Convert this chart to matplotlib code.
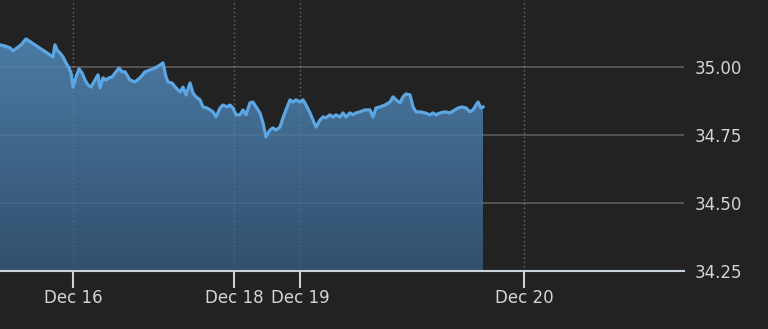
import numpy as np
import matplotlib
matplotlib.use("Agg")
import matplotlib.pyplot as plt
from matplotlib.colors import LinearSegmentedColormap

# session position (chart units along the compressed trading-time axis) and price
session_pos = [0, 5, 10, 13, 17, 21, 26, 53, 55, 57, 60, 63, 66, 69, 71, 73, 76, 79, 82, 85,
               88, 91, 95, 98, 100, 103, 106, 109, 112, 116, 119, 122, 125, 130, 135, 140, 145,
               150, 155, 160, 163, 166, 168, 172, 176, 180, 183, 186, 190, 193, 196, 200, 203,
               207, 210, 213, 216, 220, 223, 227, 230, 233, 236, 240, 243, 246, 250, 253, 256,
               260, 263, 266, 270, 273, 276, 280, 283, 286, 290, 293, 296, 300, 303, 306, 310,
               313, 316, 320, 323, 326, 330, 333, 336, 340, 343, 346, 350, 353, 356, 360, 365,
               370, 373, 376, 380, 385, 390, 393, 396, 400, 403, 406, 410, 413, 416, 420, 425,
               430, 433, 436, 440, 445, 450, 455, 458, 462, 466, 470, 473, 476, 478, 481, 483]
price = [35.081, 35.077, 35.070, 35.059, 35.070, 35.081, 35.103, 35.037, 35.081, 35.063,
         35.051, 35.037, 35.015, 34.996, 34.978, 34.926, 34.963, 34.993, 34.978, 34.952,
         34.934, 34.926, 34.952, 34.971, 34.923, 34.960, 34.952, 34.960, 34.963, 34.982,
         34.996, 34.982, 34.982, 34.952, 34.945, 34.960, 34.982, 34.989, 34.996, 35.007,
         35.015, 34.963, 34.945, 34.941, 34.923, 34.908, 34.926, 34.897, 34.941, 34.904,
         34.890, 34.879, 34.853, 34.849, 34.842, 34.835, 34.816, 34.849, 34.860, 34.853,
         34.860, 34.849, 34.824, 34.824, 34.842, 34.824, 34.868, 34.871, 34.853, 34.831,
         34.794, 34.743, 34.768, 34.776, 34.768, 34.779, 34.813, 34.842, 34.879, 34.871,
         34.879, 34.871, 34.879, 34.860, 34.831, 34.805, 34.779, 34.805, 34.816, 34.813,
         34.824, 34.816, 34.824, 34.816, 34.831, 34.816, 34.831, 34.824, 34.831, 34.835,
         34.842, 34.842, 34.816, 34.849, 34.853, 34.860, 34.871, 34.890, 34.879, 34.868,
         34.890, 34.901, 34.897, 34.853, 34.835, 34.835, 34.831, 34.824, 34.831, 34.824,
         34.831, 34.835, 34.831, 34.842, 34.849, 34.853, 34.849, 34.835, 34.842, 34.860,
         34.871, 34.849, 34.853]

tick_pos = [73, 234, 300, 524]
tick_labels = ["Dec 16", "Dec 18", "Dec 19", "Dec 20"]
y_ticks = [34.25, 34.50, 34.75, 35.00]

bg = "#222222"
y_min, y_max = 34.25, 35.246
x_max = 684

fig = plt.figure(figsize=(7.68, 3.29), dpi=100, facecolor=bg)
ax = fig.add_axes([0, 58 / 329, x_max / 768, 271 / 329])
ax.set_facecolor(bg)

# gradient area under the line
cmap = LinearSegmentedColormap.from_list("area", ["#32506d", "#4b7aa4"])
grad = np.linspace(0, 1, 256).reshape(-1, 1)
img = ax.imshow(grad, cmap=cmap, origin="lower", aspect="auto",
                extent=[0, x_max, y_min, 35.10], zorder=1)
fill = ax.fill_between(session_pos, price, y_min, facecolor="none", edgecolor="none")
img.set_clip_path(fill.get_paths()[0], transform=ax.transData)

ax.plot(session_pos, price, color="#5ca7e3", lw=2.3, zorder=3, solid_joinstyle="round")

ax.set_xlim(0, x_max)
ax.set_ylim(y_min, y_max)

# grid: full strength on the background, faint over the area
for y in y_ticks[1:]:
    ax.axhline(y, color=(1, 1, 1, 0.2), lw=1.2, zorder=0.5)
    ax.axhline(y, color=(1, 1, 1, 0.07), lw=1.2, zorder=2)
for x in tick_pos:
    ax.axvline(x, color=(1, 1, 1, 0.25), lw=1, ls=(0, (1, 2)), zorder=0.5)
    ax.axvline(x, color=(1, 1, 1, 0.12), lw=1, ls=(0, (1, 2)), zorder=2)

for side in ["top", "left", "right"]:
    ax.spines[side].set_visible(False)
ax.spines["bottom"].set_color("#c9d1dc")
ax.spines["bottom"].set_linewidth(1.5)
ax.spines["bottom"].set_zorder(4)

ax.set_xticks(tick_pos)
ax.set_xticklabels(tick_labels)
ax.tick_params(axis="x", colors="#c9d1dc", length=12, width=1.5, pad=1,
               labelsize=12, labelcolor="#d4d4d4")

ax.yaxis.tick_right()
ax.set_yticks(y_ticks)
ax.set_yticklabels([f"{v:.2f}" for v in y_ticks])
ax.tick_params(axis="y", length=0, pad=8, labelsize=12, labelcolor="#d4d4d4")
for lbl in ax.get_yticklabels():
    lbl.set_clip_on(False)

fig.savefig("out.png", dpi=100, facecolor=bg)
